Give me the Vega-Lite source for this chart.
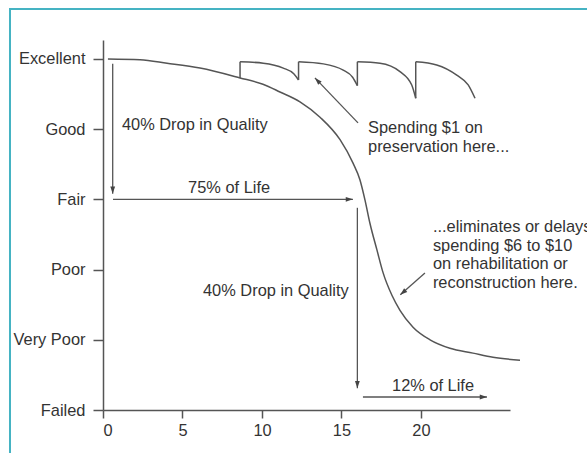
{
  "$schema": "https://vega.github.io/schema/vega-lite/v6.json",
  "width": 407,
  "height": 370,
  "autosize": {"type": "none"},
  "padding": {"left": 103, "top": 40, "right": 77, "bottom": 43},
  "background": "white",
  "config": {
    "view": {"stroke": null},
    "font": "Liberation Sans",
    "axis": {"grid": false, "title": null, "domainColor": "#555", "domainWidth": 1.5, "tickColor": "#555", "tickWidth": 1.5, "labelFont": "Liberation Sans", "labelFontSize": 16.4, "labelColor": "#333"}
  },
  "datasets": {
    "curve": [
      {"x": 0.31, "y": 5.0}, {"x": 2.33, "y": 4.99}, {"x": 4.03, "y": 4.94}, {"x": 6.1, "y": 4.87},
      {"x": 8.62, "y": 4.73}, {"x": 10.06, "y": 4.64}, {"x": 11.13, "y": 4.53}, {"x": 12.39, "y": 4.39},
      {"x": 13.65, "y": 4.17}, {"x": 14.91, "y": 3.85}, {"x": 15.72, "y": 3.52}, {"x": 16.16, "y": 3.28},
      {"x": 16.48, "y": 2.99}, {"x": 16.79, "y": 2.66}, {"x": 17.23, "y": 2.28}, {"x": 17.61, "y": 1.96},
      {"x": 18.18, "y": 1.63}, {"x": 18.68, "y": 1.42}, {"x": 19.5, "y": 1.18}, {"x": 20.57, "y": 1.0},
      {"x": 21.82, "y": 0.88}, {"x": 23.27, "y": 0.81}, {"x": 24.53, "y": 0.75}, {"x": 26.23, "y": 0.71}
    ],
    "saw": [
      {"seg": 1, "x": 8.62, "y": 4.96}, {"seg": 1, "x": 10.08, "y": 4.94}, {"seg": 1, "x": 11.34, "y": 4.87}, {"seg": 1, "x": 12.0, "y": 4.79}, {"seg": 1, "x": 12.3, "y": 4.7},
      {"seg": 2, "x": 12.3, "y": 4.96}, {"seg": 2, "x": 13.86, "y": 4.93}, {"seg": 2, "x": 15.11, "y": 4.84}, {"seg": 2, "x": 15.7, "y": 4.74}, {"seg": 2, "x": 16.0, "y": 4.62},
      {"seg": 3, "x": 16.0, "y": 4.96}, {"seg": 3, "x": 17.42, "y": 4.94}, {"seg": 3, "x": 18.68, "y": 4.82}, {"seg": 3, "x": 19.42, "y": 4.63}, {"seg": 3, "x": 19.67, "y": 4.44},
      {"seg": 4, "x": 19.67, "y": 4.96}, {"seg": 4, "x": 20.99, "y": 4.915}, {"seg": 4, "x": 22.25, "y": 4.77}, {"seg": 4, "x": 22.97, "y": 4.63}, {"seg": 4, "x": 23.4, "y": 4.44}
    ],
    "jumps": [
      {"x": 8.62, "y": 4.73, "y2": 4.96}, {"x": 12.3, "y": 4.7, "y2": 4.96},
      {"x": 16.0, "y": 4.62, "y2": 4.96}, {"x": 19.67, "y": 4.44, "y2": 4.96}
    ],
    "arrows": [
      {"id": "A1", "dir": "down", "x": 0.61, "y": 4.93, "x2": 0.61, "y2": 3.08},
      {"id": "A2", "dir": "right", "x": 0.63, "y": 3.0, "x2": 15.72, "y2": 3.0},
      {"id": "A3", "dir": "down", "x": 16.0, "y": 2.88, "x2": 16.0, "y2": 0.31},
      {"id": "A4", "dir": "right", "x": 16.35, "y": 0.185, "x2": 24.15, "y2": 0.185},
      {"id": "A5", "dir": "upleft", "x": 16.04, "y": 4.09, "x2": 13.33, "y2": 4.73},
      {"id": "A6", "dir": "downleft", "x": 20.25, "y": 1.95, "x2": 18.7, "y2": 1.64}
    ],
    "labels": [
      {"x": 1.19, "y": 4.06, "text": "40% Drop in Quality"},
      {"x": 5.35, "y": 3.16, "text": "75% of Life"},
      {"x": 16.67, "y": 4.02, "text": "Spending $1 on"},
      {"x": 16.67, "y": 3.75, "text": "preservation here..."},
      {"x": 20.75, "y": 2.61, "text": "...eliminates or delays"},
      {"x": 20.75, "y": 2.336, "text": "spending $6 to $10"},
      {"x": 20.75, "y": 2.08, "text": "on rehabilitation or"},
      {"x": 20.75, "y": 1.81, "text": "reconstruction here."},
      {"x": 6.29, "y": 1.7, "text": "40% Drop in Quality"},
      {"x": 18.18, "y": 0.34, "text": "12% of Life"}
    ],
    "frame": [{"x": -5.85, "x2": 35, "y": 5.71, "y2": -1}]
  },
  "layer": [
    {
      "data": {"name": "frame"},
      "mark": {"type": "rect", "fill": null, "stroke": "#45b3c3", "strokeWidth": 2},
      "encoding": {
        "x": {"field": "x", "type": "quantitative", "scale": {"domain": [0, 25.6], "nice": false, "zero": false}, "axis": {"values": [0, 5, 10, 15, 20], "tickSize": 8, "labelPadding": 4}},
        "x2": {"field": "x2"},
        "y": {"field": "y", "type": "quantitative", "scale": {"domain": [0, 5.27], "nice": false, "zero": false}, "axis": {"values": [0, 1, 2, 3, 4, 5], "tickSize": 10, "labelPadding": 8, "labelExpr": "['Failed','Very Poor','Poor','Fair','Good','Excellent'][datum.value]"}},
        "y2": {"field": "y2"}
      }
    },
    {
      "data": {"name": "curve"},
      "mark": {"type": "line", "color": "#555", "strokeWidth": 1.5, "interpolate": "monotone"},
      "encoding": {
        "x": {"field": "x", "type": "quantitative"},
        "y": {"field": "y", "type": "quantitative"}
      }
    },
    {
      "data": {"name": "saw"},
      "mark": {"type": "line", "color": "#555", "strokeWidth": 1.5, "interpolate": "monotone"},
      "encoding": {
        "x": {"field": "x", "type": "quantitative"},
        "y": {"field": "y", "type": "quantitative"},
        "detail": {"field": "seg", "type": "nominal"}
      }
    },
    {
      "data": {"name": "jumps"},
      "mark": {"type": "rule", "color": "#555", "strokeWidth": 1.5},
      "encoding": {
        "x": {"field": "x", "type": "quantitative"},
        "y": {"field": "y", "type": "quantitative"},
        "y2": {"field": "y2"}
      }
    },
    {
      "data": {"name": "arrows"},
      "mark": {"type": "rule", "color": "#555", "strokeWidth": 1.3},
      "encoding": {
        "x": {"field": "x", "type": "quantitative"},
        "y": {"field": "y", "type": "quantitative"},
        "x2": {"field": "x2"},
        "y2": {"field": "y2"}
      }
    },
    {
      "data": {"name": "arrows"},
      "transform": [{"filter": "datum.dir == 'down'"}],
      "mark": {"type": "point", "shape": "M0,0L-0.6,1.8L0.6,1.8Z", "filled": true, "color": "#444", "size": 64, "opacity": 1, "angle": 180},
      "encoding": {
        "x": {"field": "x2", "type": "quantitative"},
        "y": {"field": "y2", "type": "quantitative"}
      }
    },
    {
      "data": {"name": "arrows"},
      "transform": [{"filter": "datum.dir == 'right'"}],
      "mark": {"type": "point", "shape": "M0,0L-0.6,1.8L0.6,1.8Z", "filled": true, "color": "#444", "size": 64, "opacity": 1, "angle": 90},
      "encoding": {
        "x": {"field": "x2", "type": "quantitative"},
        "y": {"field": "y2", "type": "quantitative"}
      }
    },
    {
      "data": {"name": "arrows"},
      "transform": [{"filter": "datum.dir == 'upleft'"}],
      "mark": {"type": "point", "shape": "M0,0L-0.6,1.8L0.6,1.8Z", "filled": true, "color": "#444", "size": 64, "opacity": 1, "angle": 316},
      "encoding": {
        "x": {"field": "x2", "type": "quantitative"},
        "y": {"field": "y2", "type": "quantitative"}
      }
    },
    {
      "data": {"name": "arrows"},
      "transform": [{"filter": "datum.dir == 'downleft'"}],
      "mark": {"type": "point", "shape": "M0,0L-0.6,1.8L0.6,1.8Z", "filled": true, "color": "#444", "size": 64, "opacity": 1, "angle": 228.5},
      "encoding": {
        "x": {"field": "x2", "type": "quantitative"},
        "y": {"field": "y2", "type": "quantitative"}
      }
    },
    {
      "data": {"name": "labels"},
      "mark": {"type": "text", "align": "left", "baseline": "middle", "font": "Liberation Sans", "fontSize": 16.4, "color": "#333"},
      "encoding": {
        "x": {"field": "x", "type": "quantitative"},
        "y": {"field": "y", "type": "quantitative"},
        "text": {"field": "text", "type": "nominal"}
      }
    }
  ]
}
